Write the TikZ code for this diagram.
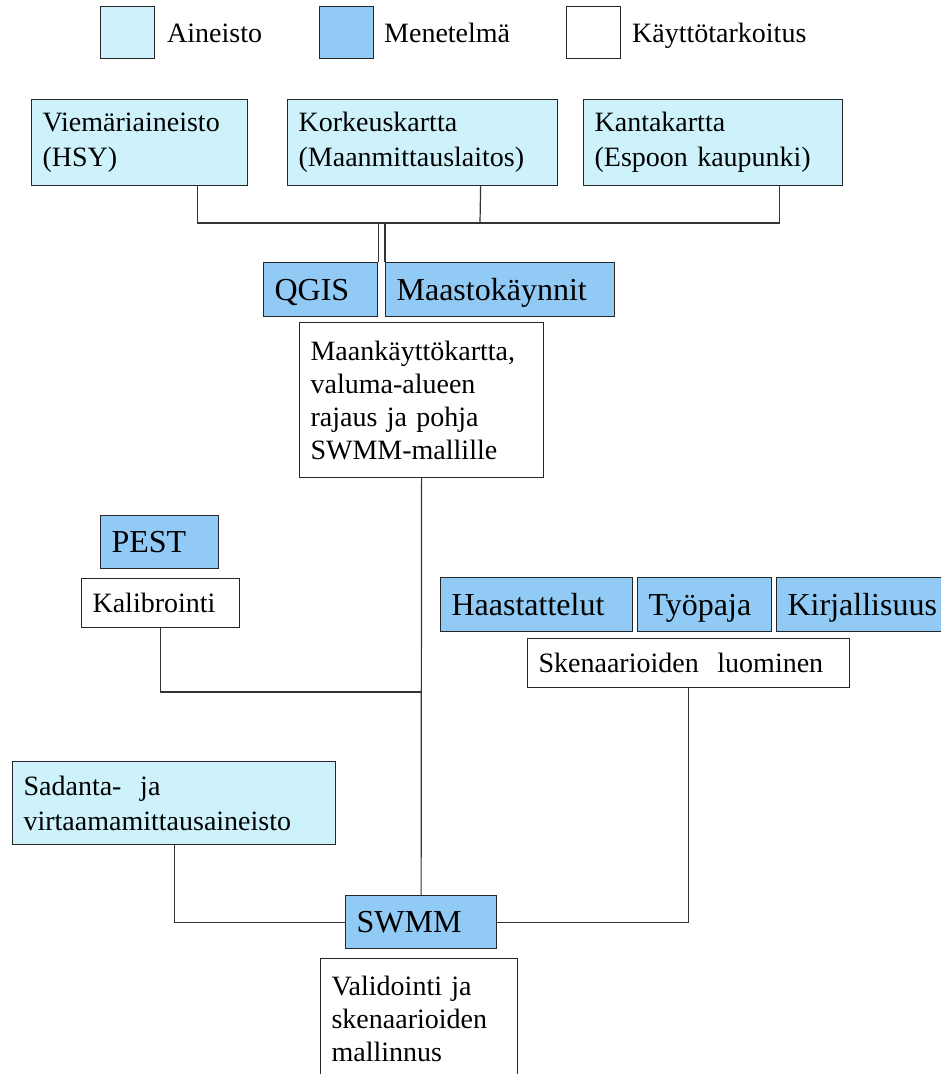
\documentclass[tikz,border=0pt]{standalone}
\usepackage{fontspec}
\setmainfont{Liberation Serif}
\definecolor{datafill}{RGB}{205,242,251}
\definecolor{methodfill}{RGB}{145,203,245}
\tikzset{
  box/.style={draw=black!85, line width=1.2pt, anchor=north west, inner xsep=11pt,
    inner ysep=3pt, align=left, font={\fontsize{28}{35}\selectfont}},
  databox/.style={box, fill=datafill},
  methodbox/.style={box, fill=methodfill, font={\fontsize{32}{38}\selectfont},
    text height=28pt, text depth=7pt},
  usebox/.style={box, fill=white},
  legtext/.style={anchor=base west, inner sep=0pt, font={\fontsize{28}{34}\selectfont}},
  link/.style={line width=1.2pt, black!80}
}
\begin{document}
\begin{tikzpicture}[x=1pt,y=-1pt]
    \useasboundingbox (0,0) rectangle (941,1074);
    \clip (0,0) rectangle (941,1074);
    % legend
    \node[databox, minimum width=54, minimum height=52] (legdata) at (100,6) {};
    \node[legtext] (legdatatext) at (167,42) {Aineisto};
    \node[methodbox, minimum width=54, minimum height=52, text height=0pt, text depth=0pt] (legmethod) at (319,6) {};
    \node[legtext] (legmethodtext) at (384,42) {Menetelmä};
    \node[usebox, minimum width=54, minimum height=52] (leguse) at (566,6) {};
    \node[legtext] (legusetext) at (632,42) {Käyttötarkoitus};
    % boxes
    \node[databox, text width=194, minimum height=86] (viem) at (31,99) {Viemäriaineisto\\(HSY)};
    \node[databox, text width=248, minimum height=86] (kork) at (287,99) {Korkeuskartta\\(Maanmittauslaitos)};
    \node[databox, text width=237, minimum height=86] (kanta) at (583,99) {Kantakartta\\(Espoon kaupunki)};
    \node[methodbox, text width=92, minimum height=54] (qgis) at (263,262) {QGIS};
    \node[methodbox, text width=207, minimum height=54] (maasto) at (385,262) {Maastokäynnit};
    \node[usebox, text width=222, minimum height=155, font={\fontsize{28}{33}\selectfont}] (maan) at (299,322)
      {Maankäyttökartta,\\valuma-alueen\\rajaus ja pohja\\SWMM-mallille};
    \node[methodbox, text width=96, minimum height=53] (pest) at (100,515) {PEST};
    \node[usebox, text width=136, minimum height=49] (kalib) at (81,578) {Kalibrointi};
    \node[methodbox, text width=170, minimum height=54] (haast) at (440,577) {Haastattelut};
    \node[methodbox, text width=112, minimum height=54] (tyopaja) at (637,577) {Työpaja};
    \node[methodbox, text width=153, minimum height=54] (kirj) at (776,577) {Kirjallisuus};
    \node[usebox, text width=300, minimum height=49] (sken) at (527,638) {Skenaarioiden\ \ luominen};
    \node[databox, text width=301, minimum height=83] (sada) at (12,761) {Sadanta-\ \ ja\\virtaamamittausaineisto};
    \node[methodbox, text width=129, minimum height=53] (swmm) at (345,895) {SWMM};
    \node[usebox, text width=175, minimum height=120, font={\fontsize{28}{33}\selectfont}] (valid) at (320,958)
      {Validointi ja\\skenaarioiden\\mallinnus};
    % connectors
    \coordinate (bus) at (480,223);
    \coordinate (kjoin) at (421,692);
    \draw[link] ([xshift=58]viem.south) |- (bus) -| ([xshift=66]kanta.south);
    \draw[link] ([xshift=58]kork.south) -- (bus);
    \draw[link] (qgis.north east) -- (qgis.north east |- bus);
    \draw[link] (maasto.north west) -- (maasto.north west |- bus);
    \draw[link] (maan.south) -- (swmm.north);
    \draw[link] (kalib.south) |- (kjoin);
    \draw[link] (sada.south) |- (swmm.west);
    \draw[link] (sken.south) |- (swmm.east);
\end{tikzpicture}
\end{document}
